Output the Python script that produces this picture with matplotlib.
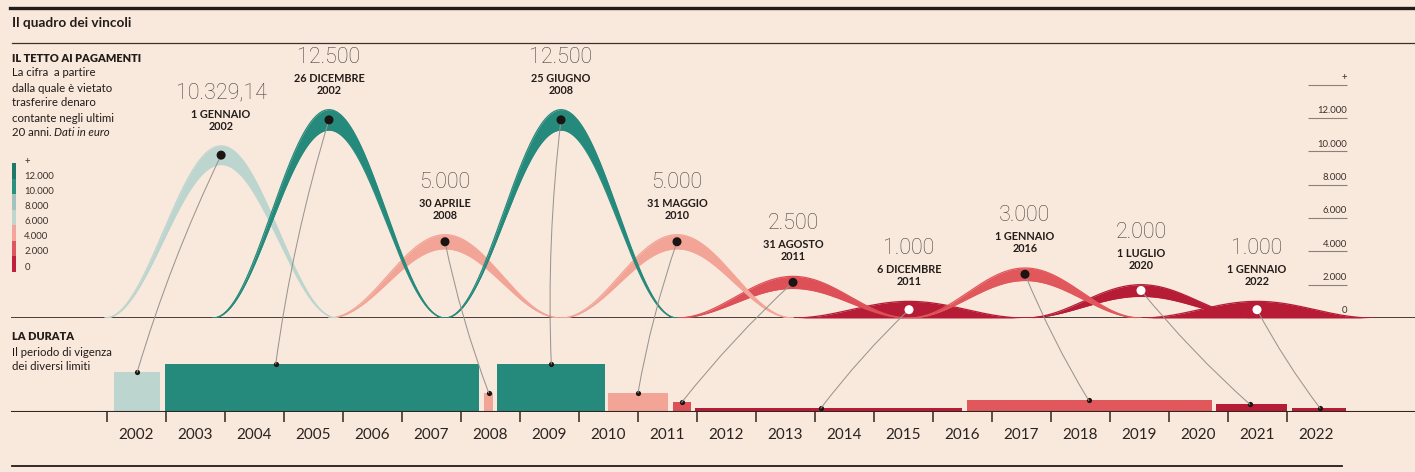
import matplotlib
matplotlib.use("Agg")
import matplotlib.pyplot as plt
import numpy as np
from matplotlib.patches import ConnectionPatch
from matplotlib.lines import Line2D

# ---------------- data ----------------
limit_values = [10329.14, 12500, 5000, 12500, 5000, 2500, 1000, 3000, 2000, 1000]
value_labels = ["10.329,14", "12.500", "5.000", "12.500", "5.000",
                "2.500", "1.000", "3.000", "2.000", "1.000"]
date_labels = ["1 GENNAIO\n2002", "26 DICEMBRE\n2002", "30 APRILE\n2008",
               "25 GIUGNO\n2008", "31 MAGGIO\n2010", "31 AGOSTO\n2011",
               "6 DICEMBRE\n2011", "1 GENNAIO\n2016", "1 LUGLIO\n2020",
               "1 GENNAIO\n2022"]
hump_positions = [0.07, 1, 2, 3, 4, 5, 6, 7, 8, 9]
period_start = [2002.12, 2002.98, 2008.39, 2008.61, 2010.49, 2011.59,
                2011.97, 2016.58, 2020.80, 2022.08]
period_end = [2002.90, 2008.31, 2008.54, 2010.44, 2011.51, 2011.90,
              2016.49, 2020.73, 2022.00, 2023.00]
period_dot = [2002.51, 2004.86, 2008.47, 2009.53, 2011.00, 2011.74,
              2014.10, 2018.64, 2021.37, 2022.56]
limit_colors = ["#bdd5cf", "#25897b", "#f2a597", "#25897b", "#f2a597",
                "#dd5057", "#b71c36", "#e0575c", "#b71c36", "#b71c36"]
dot_colors = ["#1a1412", "#1a1412", "#1a1412", "#1a1412", "#1a1412",
              "#1a1412", "#ffffff", "#1a1412", "#ffffff", "#ffffff"]
years = list(range(2002, 2023))
legend_labels = ["0", "2.000", "4.000", "6.000", "8.000", "10.000", "12.000", "+"]
legend_colors = ["#c01f3c", "#e0565e", "#f4a49a", "#bdd6d0", "#a3c3bf",
                 "#2a9082", "#1f7868"]
right_values = [0, 2000, 4000, 6000, 8000, 10000, 12000, 14000]
right_labels = ["0", "2.000", "4.000", "6.000", "8.000", "10.000", "12.000", "+"]

# ---------------- style ----------------
BG = "#f9e9dc"
INK = "#231c19"
W, H = 1415, 472
plt.rcParams["font.family"] = ["Lato", "DejaVu Sans"]


def fx(px):
    return px / W


def fy(py):
    return 1 - py / H


fig = plt.figure(figsize=(W / 100, H / 100), dpi=100, facecolor=BG)

# frame lines and titles
fig.add_artist(Line2D([fx(10), 1], [fy(8), fy(8)], lw=2.4, color=INK))
fig.add_artist(Line2D([fx(12), 1], [fy(43), fy(43)], lw=0.9, color="#3a302b"))
fig.add_artist(Line2D([fx(12), fx(1342)], [fy(466), fy(466)], lw=1.3, color=INK))
fig.text(fx(12), fy(23), "Il quadro dei vincoli", fontsize=9.8, fontweight="bold",
         color=INK, va="center")

fig.text(fx(12), fy(58), "IL TETTO AI PAGAMENTI", fontsize=7.9, fontweight="heavy",
         color=INK, va="center")
body = ["La cifra  a partire", "dalla quale è vietato", "trasferire denaro",
        "contante negli ultimi"]
for k, line in enumerate(body):
    fig.text(fx(12), fy(73 + 15 * k), line, fontsize=8.2, color=INK, va="center")
t_last = fig.text(fx(12), fy(133), "20 anni. ", fontsize=8.2, color=INK, va="center")
fig.canvas.draw()
bb = t_last.get_window_extent(renderer=fig.canvas.get_renderer())
fig.text(bb.x1 / W, fy(133), "Dati in euro", fontsize=8.2, color=INK,
         style="italic", va="center")

fig.text(fx(12), fy(336), "LA DURATA", fontsize=7.9, fontweight="heavy",
         color=INK, va="center")
fig.text(fx(12), fy(352), "Il periodo di vigenza", fontsize=8.2, color=INK, va="center")
fig.text(fx(12), fy(366), "dei diversi limiti", fontsize=8.2, color=INK, va="center")

# ---------------- colour legend ----------------
ax_leg = fig.add_axes([fx(12), fy(272), fx(4), fy(163) - fy(272)])
ax_leg.bar([0] * len(legend_colors), [1] * len(legend_colors),
           bottom=list(range(len(legend_colors))), width=1, color=legend_colors,
           linewidth=0)
ax_leg.set_xlim(-0.5, 0.5)
ax_leg.set_ylim(0, len(legend_colors))
ax_leg.axis("off")
for k, lab in enumerate(legend_labels):
    ax_leg.annotate(lab, xy=(1, 0.32 + k * 0.965), xycoords=("axes fraction", "data"),
                    xytext=(6, 0), textcoords="offset points", fontsize=6.8,
                    color="#3a302b", va="center", ha="left", annotation_clip=False)

# ---------------- bottom: duration bars ----------------
ax_bot = fig.add_axes([0, fy(412), 1, fy(330) - fy(412)])
ax_bot.set_facecolor("none")
ax_bot.set_xlim(2002 - 107 / 59, 2002 + (W - 107) / 59)
ax_bot.set_ylim(0, 82 / 0.00384)
widths = [e - s for s, e in zip(period_start, period_end)]
ax_bot.bar(period_start, limit_values, width=widths, align="edge",
           color=limit_colors, linewidth=0, zorder=2)
ax_bot.scatter(period_dot, limit_values, s=14, color="#1a1412", zorder=5,
               linewidths=0, clip_on=False)
ax_bot.axhline(0, xmin=fx(12), xmax=1, color="#2e2622", lw=1.5, zorder=6)
for sp in ax_bot.spines.values():
    sp.set_visible(False)
ax_bot.set_yticks([])
ax_bot.set_xticks(years)
ax_bot.tick_params(axis="x", which="major", length=7.5, width=1.1, color="#2e2622",
                   labelbottom=False)
ax_bot.set_xticks([y + 0.5 for y in years], minor=True)
ax_bot.set_xticklabels([str(y) for y in years], minor=True)
ax_bot.tick_params(axis="x", which="minor", length=0, pad=11.5, labelsize=11,
                   labelcolor="#2a2320")

# ---------------- top: payment limits humps ----------------
ax_top = fig.add_axes([0, fy(318), 1, fy(43) - fy(318)])
ax_top.set_facecolor("none")
ax_top.set_xlim(-213 / 116, (W - 213) / 116)
ax_top.set_ylim(0, 16500)
ax_top.axis("off")
ax_top.axhline(0, xmin=fx(12), xmax=1, color="#4a3d37", lw=1.4, zorder=1)

dot_vals = []
for p, v, c in zip(hump_positions, limit_values, limit_colors):
    x = np.linspace(p - 1, p + 1, 400)
    bell = (1 + np.cos(np.pi * (x - p))) / 2
    t = 600 + 0.05 * v
    inner = v - t if v - t >= 0.5 * v else 0.0
    z = 2 + v / 1000.0
    ax_top.fill_between(x, inner * bell, v * bell, color=c, linewidth=0, zorder=z)
    ax_top.plot(x, v * bell, color=c, lw=0.9, zorder=z)
    ax_top.plot(x, inner * bell, color=c, lw=0.9, zorder=z)
    dot_vals.append((v + inner) / 2)

# right scale
ax_top.hlines(right_values[1:], fx(1308), fx(1347), transform=ax_top.get_yaxis_transform(),
              color="#8c8079", lw=0.8)
for val, lab in zip(right_values, right_labels):
    ax_top.annotate(lab, xy=(fx(1347), val), xycoords=("axes fraction", "data"),
                    xytext=(0, 5.2), textcoords="offset points", fontsize=6.8,
                    color="#3a302b", ha="right", va="center")

# labels over humps
for p, v, vl, dl in zip(hump_positions, limit_values, value_labels, date_labels):
    ax_top.annotate(vl, xy=(p, v), xytext=(0, 52.5 * 0.72), textcoords="offset points",
                    ha="center", va="center", fontsize=15.5, fontweight="light",
                    family=["Roboto", "Lato", "DejaVu Sans"],
                    color="#4a4340", annotation_clip=False)
    ax_top.annotate(dl, xy=(p, v), xytext=(0, 25.5 * 0.72), textcoords="offset points",
                    ha="center", va="center", fontsize=7.8, fontweight="bold",
                    color="#231c19", linespacing=1.1, annotation_clip=False)

# connectors from limit dot to duration bar
for p, dv, yr, v in zip(hump_positions, dot_vals, period_dot, limit_values):
    con = ConnectionPatch(xyA=(p, dv), coordsA=ax_top.transData,
                          xyB=(yr, v), coordsB=ax_bot.transData,
                          color="#9a9591", lw=0.75, connectionstyle="arc3,rad=0.04",
                          zorder=40)
    con.set_annotation_clip(False)
    ax_top.add_artist(con)

ax_top.scatter(hump_positions, dot_vals, s=42, c=dot_colors, linewidths=0, zorder=60,
               clip_on=False)

fig.savefig("out.png", dpi=100, facecolor=BG)
